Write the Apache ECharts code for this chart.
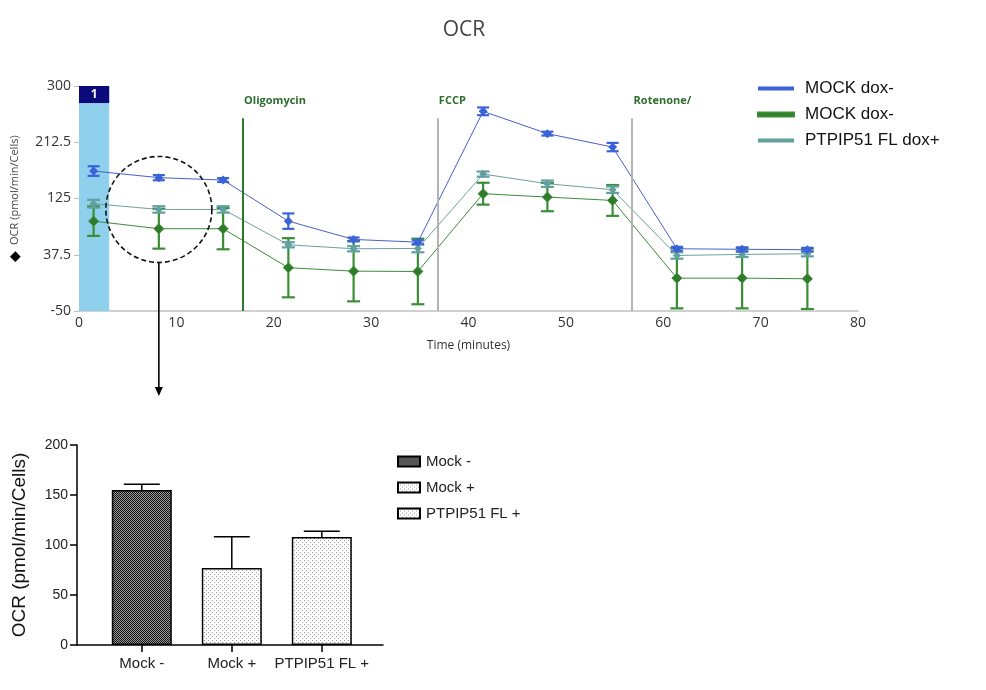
<!DOCTYPE html>
<html><head><meta charset="utf-8">
<script src="https://cdn.jsdelivr.net/npm/echarts@6/dist/echarts.min.js"></script>
<style>html,body{margin:0;padding:0;background:#fff}#c{width:986px;height:690px}</style>
</head><body><div id="c"></div>
<script>
// ---------- data: time course ----------
const times = [1.5, 8.2, 14.8, 21.5, 28.2, 34.8, 41.5, 48.1, 54.8, 61.4, 68.1, 74.8];
const mockBlue = [167.7, 157.4, 153.7, 89.8, 61.3, 57.1, 260.6, 225.9, 205, 46.8, 46, 45.3];
const mockBlueErr = [7.5, 4, 3, 12, 3, 3, 6, 3, 6.5, 3, 3, 3];
const mockGreen = [89.8, 78, 78, 17.3, 12, 11.5, 132.5, 127.2, 122, 1.1, 1.1, 0.1];
const mockGreenErr = [23, 31, 32, 46, 47, 51, 17, 22, 24, 47, 47, 47];
const ptpip = [116.9, 108, 108, 53, 46.8, 47.3, 163, 148, 138.7, 36.4, 38, 39];
const ptpipErr = [6, 5, 5, 4, 4, 6, 4, 5, 5, 5, 4, 4];
const lineLabels = ['MOCK dox-', 'MOCK dox-', 'PTPIP51 FL dox+'];
const yTicksTop = [-50, 37.5, 125, 212.5, 300];
const injectionTimes = [16.8, 36.8, 56.8];
const injectionNames = ['Oligomycin', 'FCCP', 'Rotenone/'];
const baselineEnd = 3.1;
const focusPoint = [8.2, 108];

// ---------- data: bar chart ----------
const barCats = ['Mock -', 'Mock +', 'PTPIP51 FL +'];
const barVals = [155, 77, 108];
const barErr = [5.7, 31.3, 5.7];

function pat(w, h, bg, pts) {
  const c = document.createElement('canvas'); c.width = w; c.height = h;
  const g = c.getContext('2d'); g.fillStyle = bg; g.fillRect(0, 0, w, h);
  pts.forEach(p => { g.fillStyle = p[2]; g.fillRect(p[0], p[1], 1, 1); });
  return { image: c, repeat: 'repeat' };
}
const darkPat = pat(2, 2, '#111111', [[1, 0, '#9a9a9a'], [0, 1, '#9a9a9a']]);
const dotPat = pat(4, 4, '#ffffff', [[0, 0, '#9a9a9a'], [2, 2, '#9a9a9a']]);

function errRender(color, capW, lw) {
  return function (params, api) {
    const x = api.value(0), lo = api.value(1), hi = api.value(2);
    const p1 = api.coord([x, lo]), p2 = api.coord([x, hi]);
    const st = { stroke: color, lineWidth: lw };
    return { type: 'group', children: [
      { type: 'line', shape: { x1: p1[0], y1: p1[1], x2: p2[0], y2: p2[1] }, style: st },
      { type: 'line', shape: { x1: p1[0] - capW / 2, y1: p1[1], x2: p1[0] + capW / 2, y2: p1[1] }, style: st },
      { type: 'line', shape: { x1: p2[0] - capW / 2, y1: p2[1], x2: p2[0] + capW / 2, y2: p2[1] }, style: st }
    ] };
  };
}
function sym(vals, errs) { return times.map((t, i) => [t, vals[i] - errs[i], vals[i] + errs[i]]); }
function pts(vals) { return times.map((t, i) => [t, vals[i]]); }

const C_BLUE = '#3b63d8', C_GREEN = '#3a8f35', C_TEAL = '#62a0a0';
const topFont = "'Open Sans', sans-serif";
const arial = "'Liberation Sans', Arial, sans-serif";

const chart = echarts.init(document.getElementById('c'));
const option = {
  animation: false,
  backgroundColor: '#fff',
  title: { text: 'OCR', left: 459, top: 15, textAlign: 'center',
    textStyle: { fontFamily: topFont, fontSize: 21, fontWeight: 'normal', color: '#444' } },
  legend: [
    { data: ['blue', 'green', 'teal'], orient: 'vertical', left: 752, top: 75, itemGap: 9,
      icon: 'rect', itemWidth: 36, itemHeight: 4,
      formatter: n => lineLabels[['blue', 'green', 'teal'].indexOf(n)],
      textStyle: { fontFamily: arial, fontSize: 17, color: '#111', padding: [0, 0, 0, 6] } },
    { data: barCats, orient: 'vertical', left: 392, top: 449, itemGap: 11,
      icon: 'rect', itemWidth: 22, itemHeight: 10,
      textStyle: { fontFamily: arial, fontSize: 15, color: '#222', padding: [0, 0, 0, 1] } }
  ],
  grid: [
    { left: 79, top: 86, width: 779, height: 225, containLabel: false },
    { left: 77, top: 445, width: 306, height: 200, containLabel: false }
  ],
  xAxis: [
    { gridIndex: 0, type: 'value', min: 0, max: 80, interval: 10,
      name: 'Time (minutes)', nameLocation: 'middle', nameGap: 29,
      nameTextStyle: { fontFamily: topFont, fontSize: 12, color: '#333' },
      axisLine: { onZero: false, lineStyle: { color: '#d0d0d0', width: 2 } }, axisTick: { show: false },
      axisLabel: { fontFamily: topFont, fontSize: 14, color: '#333', margin: 5 },
      splitLine: { show: false } },
    { gridIndex: 1, type: 'value', min: -0.72, max: 2.68,
      axisLine: { onZero: false, lineStyle: { color: '#000', width: 1.5 } },
      axisTick: { customValues: [0, 1, 2], length: 7, lineStyle: { color: '#000', width: 1.5 } },
      axisLabel: { customValues: [0, 1, 2], formatter: v => barCats[Math.round(v)],
        fontFamily: arial, fontSize: 15, color: '#222', margin: 11 },
      splitLine: { show: false } }
  ],
  yAxis: [
    { gridIndex: 0, type: 'value', min: -50, max: 300,
      name: '{d|◆}  OCR (pmol/min/Cells)', nameLocation: 'middle', nameGap: 57,
      nameTextStyle: { fontFamily: topFont, fontSize: 11, color: '#444',
        rich: { d: { fontSize: 14, color: '#000' } } },
      axisLine: { show: true, onZero: false, lineStyle: { color: '#d0d0d0', width: 1 } },
      axisTick: { show: true, customValues: yTicksTop, length: 5, lineStyle: { color: '#bbb' } },
      axisLabel: { customValues: yTicksTop, fontFamily: topFont, fontSize: 14, color: '#333', margin: 8 },
      splitLine: { show: false } },
    { gridIndex: 1, type: 'value', min: 0, max: 200, interval: 50,
      name: 'OCR (pmol/min/Cells)', nameLocation: 'middle', nameGap: 48,
      nameTextStyle: { fontFamily: arial, fontSize: 19, color: '#111' },
      axisLine: { show: true, onZero: false, lineStyle: { color: '#000', width: 1.5 } },
      axisTick: { show: true, length: 7, lineStyle: { color: '#000', width: 1.5 } },
      axisLabel: { fontFamily: arial, fontSize: 14, color: '#222', margin: 9 },
      splitLine: { show: false } }
  ],
  series: [
    { type: 'custom', name: 'greenErr', xAxisIndex: 0, yAxisIndex: 0, z: 1, silent: true,
      renderItem: errRender(C_GREEN, 13, 2.2), data: sym(mockGreen, mockGreenErr),
      markArea: { silent: true, data: [
        [{ coord: [0, -50], itemStyle: { color: '#8fd0ec' } }, { coord: [baselineEnd, 300] }],
        [{ coord: [0, 273.5], itemStyle: { color: '#0a0a7a' },
           label: { show: true, formatter: '1', position: 'inside', color: '#fff', fontWeight: 'bold', fontSize: 12, fontFamily: topFont } },
         { coord: [baselineEnd, 300] }]
      ] },
      markLine: { silent: true, symbol: 'none', label: { show: false },
        data: injectionTimes.map((t, i) => [
          { coord: [t, -50], lineStyle: { color: i === 0 ? '#2c7a2c' : '#b4b4b4', width: 2, type: 'solid' } },
          { coord: [t, 250] }]) },
      markPoint: { silent: true, symbol: 'rect', symbolSize: 1, itemStyle: { color: 'rgba(0,0,0,0)' },
        data: injectionTimes.map((t, i) => ({ coord: [t, 276.5],
          label: { show: true, formatter: injectionNames[i], position: 'right', distance: 1,
            fontFamily: topFont, fontSize: 11, fontWeight: 'bold', color: '#2c6e2c' } })) } },
    { type: 'custom', name: 'tealErr', xAxisIndex: 0, yAxisIndex: 0, z: 1, silent: true,
      renderItem: errRender(C_TEAL, 13, 2.2), data: sym(ptpip, ptpipErr) },
    { type: 'custom', name: 'blueErr', xAxisIndex: 0, yAxisIndex: 0, z: 1, silent: true,
      renderItem: errRender(C_BLUE, 12, 2.2), data: sym(mockBlue, mockBlueErr) },
    { type: 'line', name: 'green', xAxisIndex: 0, yAxisIndex: 0, data: pts(mockGreen),
      color: C_GREEN, symbol: 'diamond', symbolSize: 10, showAllSymbol: true,
      lineStyle: { width: 1, color: '#3d8a38' },
      itemStyle: { color: '#2f7a2b', borderColor: '#3a8f35', borderWidth: 1 } },
    { type: 'line', name: 'teal', xAxisIndex: 0, yAxisIndex: 0, data: pts(ptpip),
      color: C_TEAL, symbol: 'diamond', symbolSize: 8, showAllSymbol: true,
      lineStyle: { width: 1, color: '#6e9f9f' }, itemStyle: { color: C_TEAL } },
    { type: 'line', name: 'blue', xAxisIndex: 0, yAxisIndex: 0, data: pts(mockBlue),
      color: C_BLUE, symbol: 'diamond', symbolSize: 9, showAllSymbol: true,
      lineStyle: { width: 1, color: '#4a5fc8' }, itemStyle: { color: C_BLUE } },
    // bars
    ...barCats.map((c, i) => ({ type: 'bar', name: c, xAxisIndex: 1, yAxisIndex: 1,
      barWidth: 60, barGap: '-100%', data: [[i, barVals[i]]],
      itemStyle: { color: i === 0 ? darkPat : dotPat, borderColor: '#000', borderWidth: 1.5 } })),
    { type: 'custom', name: 'barErr', xAxisIndex: 1, yAxisIndex: 1, z: 1, silent: true,
      renderItem: function (params, api) {
        const x = api.value(0), lo = api.value(1), hi = api.value(2);
        const p1 = api.coord([x, lo]), p2 = api.coord([x, hi]);
        const st = { stroke: '#000', lineWidth: 1.5 };
        return { type: 'group', children: [
          { type: 'line', shape: { x1: p1[0], y1: p1[1], x2: p2[0], y2: p2[1] }, style: st },
          { type: 'line', shape: { x1: p2[0] - 18, y1: p2[1], x2: p2[0] + 18, y2: p2[1] }, style: st }
        ] };
      },
      data: barVals.map((v, i) => [i, v, v + barErr[i]]) }
  ]
};
chart.setOption(option);

// annotation: dashed circle around the focus time point and arrow to the bar chart
const ctr = chart.convertToPixel({ gridIndex: 0 }, focusPoint);
const r = 53;
chart.setOption({ graphic: [
  { type: 'circle', shape: { cx: ctr[0], cy: ctr[1], r: r }, style: { fill: 'none', stroke: '#111', lineWidth: 1.6, lineDash: [5, 3] }, z: 10 },
  { type: 'line', shape: { x1: ctr[0], y1: ctr[1] + r, x2: ctr[0], y2: 388 }, style: { stroke: '#000', lineWidth: 1.6 }, z: 10 },
  { type: 'polygon', shape: { points: [[ctr[0] - 4, 387], [ctr[0] + 4, 387], [ctr[0], 396]] }, style: { fill: '#000' }, z: 10 }
] });
</script>
</body></html>
